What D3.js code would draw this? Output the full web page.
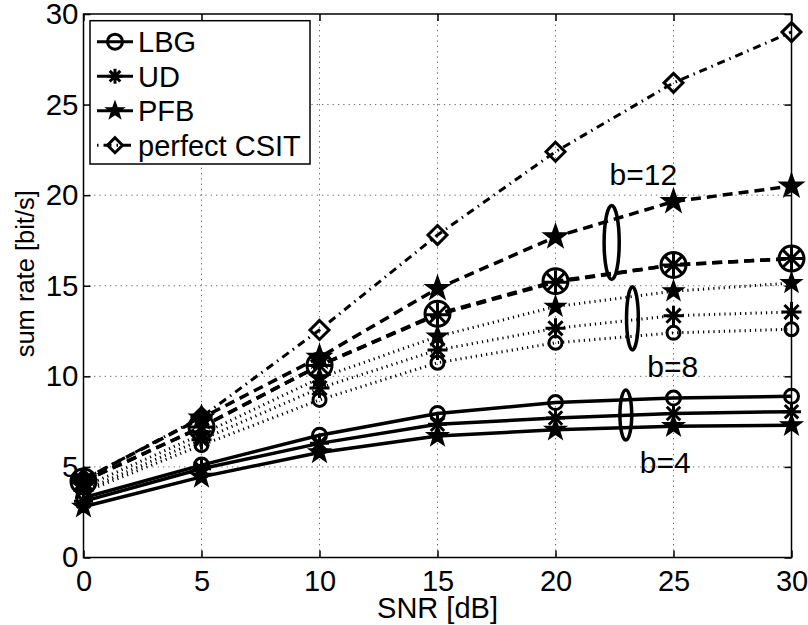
<!DOCTYPE html>
<html>
<head>
<meta charset="utf-8">
<script src="https://cdn.jsdelivr.net/npm/d3@7"></script>
<style>
  body { margin: 0; background: #fff; }
  svg { display: block; font-family: "Liberation Sans", Arial, Helvetica, sans-serif; }
</style>
</head>
<body>
<div id="chart-container"></div>
<script>
// data
const snr = [0, 5, 10, 15, 20, 25, 30];
const xTicks = [0, 5, 10, 15, 20, 25, 30];
const yTicks = [0, 5, 10, 15, 20, 25, 30];

const csit  = [4.3, 7.75, 12.56, 17.8, 22.4, 26.2, 29.0];
const pfb12 = [4.3, 7.7, 11.05, 14.85, 17.7, 19.65, 20.5];
const lbg12 = [4.2, 7.2, 10.6, 13.45, 15.25, 16.15, 16.5];
const ud12  = [4.2, 7.2, 10.6, 13.4, 15.2, 16.15, 16.5];
const pfb8  = [3.9, 6.8, 9.9, 12.2, 13.85, 14.7, 15.15];
const ud8   = [3.7, 6.5, 9.35, 11.45, 12.65, 13.35, 13.55];
const lbg8  = [3.6, 6.2, 8.7, 10.75, 11.85, 12.4, 12.6];
const lbg4  = [3.3, 5.1, 6.75, 7.95, 8.55, 8.8, 8.9];
const ud4   = [3.1, 4.9, 6.3, 7.35, 7.7, 7.95, 8.05];
const pfb4  = [2.8, 4.45, 5.8, 6.7, 7.05, 7.25, 7.3];

const legendNames = ["LBG", "UD", "PFB", "perfect CSIT"];
const legendMarkers = ["circle", "asterisk", "star", "diamond"];

// ellipses grouping the curves (data units) and their labels
const groupLabels = ["b=12", "b=8", "b=4"];
const groupEllipse = [
  {x: 22.38, y: 17.39, rx: 0.32, ry: 2.04},
  {x: 23.26, y: 13.2, rx: 0.25, ry: 1.74},
  {x: 22.98, y: 7.87, rx: 0.25, ry: 1.38}
];
const groupLabelPos = [[22.29, 20.56], [23.89, 9.98], [23.57, 4.68]];

// styles
const dashed = "10,6", dotted = "1.2,4", dashdot = "8,5,1.5,5";
const series = [
  {v: lbg4,  marker: "circle",   size: 7,    dash: null,    lw: 3.5},
  {v: ud4,   marker: "asterisk", size: 9.5,  dash: null,    lw: 3.5},
  {v: pfb4,  marker: "star",     size: 11,   dash: null,    lw: 3.5},
  {v: lbg8,  marker: "circle",   size: 6.5,  dash: dotted,  lw: 3},
  {v: ud8,   marker: "asterisk", size: 10,   dash: dotted,  lw: 3},
  {v: pfb8,  marker: "star",     size: 10.5, dash: dotted,  lw: 3},
  {v: lbg12, marker: "circle",   size: 12.5, dash: dashed,  lw: 3.5},
  {v: ud12,  marker: "asterisk", size: 12,   dash: dashed,  lw: 3.5},
  {v: pfb12, marker: "star",     size: 12.5, dash: dashed,  lw: 3.5},
  {v: csit,  marker: "diamond",  size: 9.5,  dash: dashdot, lw: 3}
];

const margin = {top: 14, right: 16.5, bottom: 67.5, left: 83.5};
const W = 808, H = 625;
const width = W - margin.left - margin.right;
const height = H - margin.top - margin.bottom;
const fs = 29;

const x = d3.scaleLinear().domain([0, 30]).range([0, width]);
const y = d3.scaleLinear().domain([0, 30]).range([height, 0]);

const svg = d3.select("#chart-container")
  .append("svg")
  .attr("width", W)
  .attr("height", H)
  .append("g")
  .attr("transform", `translate(${margin.left},${margin.top})`);

// grid
svg.selectAll(".xgrid")
  .data(xTicks.slice(1, -1))
  .join("line")
  .attr("x1", d => x(d)).attr("x2", d => x(d))
  .attr("y1", 0).attr("y2", height)
  .attr("stroke", "#666").attr("stroke-width", 1)
  .attr("stroke-dasharray", "1.3,4");
svg.selectAll(".ygrid")
  .data(yTicks.slice(1, -1))
  .join("line")
  .attr("x1", 0).attr("x2", width)
  .attr("y1", d => y(d)).attr("y2", d => y(d))
  .attr("stroke", "#666").attr("stroke-width", 1)
  .attr("stroke-dasharray", "1.3,4");

// marker shapes
function markerPath(type, r) {
  if (type === "circle") return d3.arc()({innerRadius: 0, outerRadius: r, startAngle: 0, endAngle: 2 * Math.PI});
  if (type === "diamond") return `M0,${-r}L${r},0L0,${r}L${-r},0Z`;
  if (type === "asterisk") {
    const d = r * Math.SQRT1_2;
    return `M0,${-r}V${r}M${-r},0H${r}M${-d},${-d}L${d},${d}M${-d},${d}L${d},${-d}`;
  }
  if (type === "star") {
    let p = "";
    for (let i = 0; i < 10; i++) {
      const rr = i % 2 === 0 ? r : r * 0.4;
      const a = -Math.PI / 2 + i * Math.PI / 5;
      p += (i === 0 ? "M" : "L") + (rr * Math.cos(a)).toFixed(2) + "," + (rr * Math.sin(a)).toFixed(2);
    }
    return p + "Z";
  }
}
function drawMarker(g, type, r) {
  g.append("path")
    .attr("d", markerPath(type, r))
    .attr("fill", type === "star" ? "#000" : "none")
    .attr("stroke", "#000")
    .attr("stroke-width", type === "star" ? 1.5 : 3)
    .attr("stroke-linejoin", "miter");
}

const line = d3.line()
  .x((d, i) => x(snr[i]))
  .y(d => y(d));

series.forEach(s => {
  svg.append("path")
    .datum(s.v)
    .attr("fill", "none")
    .attr("stroke", "#000")
    .attr("stroke-width", s.lw)
    .attr("stroke-dasharray", s.dash)
    .attr("d", line);
  s.v.forEach((d, i) => {
    const g = svg.append("g").attr("transform", `translate(${x(snr[i])},${y(d)})`);
    drawMarker(g, s.marker, s.size);
  });
});

// ellipses + labels
groupEllipse.forEach((e, i) => {
  svg.append("ellipse")
    .attr("cx", x(e.x)).attr("cy", y(e.y))
    .attr("rx", x(e.rx) - x(0)).attr("ry", y(0) - y(e.ry))
    .attr("fill", "none").attr("stroke", "#000").attr("stroke-width", 3.5);
  svg.append("text")
    .attr("x", x(groupLabelPos[i][0])).attr("y", y(groupLabelPos[i][1]))
    .style("font-size", "30px")
    .text(groupLabels[i]);
});

// axes (ticks inward, box)
svg.append("rect")
  .attr("width", width).attr("height", height)
  .attr("fill", "none").attr("stroke", "#000").attr("stroke-width", 1.5);

svg.append("g")
  .attr("transform", `translate(0,${height})`)
  .style("font-size", fs + "px")
  .call(d3.axisBottom(x).tickValues(xTicks).tickSizeInner(-7).tickSizeOuter(0).tickPadding(12.5))
  .call(g => g.select(".domain").remove())
  .call(g => g.selectAll("text").attr("fill", "#000").style("font-family", "inherit"));
svg.append("g")
  .call(d3.axisTop(x).tickValues(xTicks).tickSizeInner(-7).tickSizeOuter(0).tickFormat(""))
  .call(g => g.select(".domain").remove());
svg.append("g")
  .style("font-size", "29.5px")
  .call(d3.axisLeft(y).tickValues(yTicks).tickSizeInner(-7).tickSizeOuter(0).tickPadding(5))
  .call(g => g.select(".domain").remove())
  .call(g => g.selectAll("text").attr("fill", "#000").style("font-family", "inherit"));
svg.append("g")
  .attr("transform", `translate(${width},0)`)
  .call(d3.axisRight(y).tickValues(yTicks).tickSizeInner(-7).tickSizeOuter(0).tickFormat(""))
  .call(g => g.select(".domain").remove());
svg.selectAll(".tick line").attr("stroke", "#000").attr("stroke-width", 1.5);

// axis labels
svg.append("text")
  .attr("x", width / 2)
  .attr("y", height + 60)
  .style("text-anchor", "middle")
  .style("font-size", fs + "px")
  .text("SNR [dB]");
svg.append("text")
  .attr("transform", "rotate(-90)")
  .attr("x", -height / 2 + 12)
  .attr("y", -margin.left + 33.5)
  .style("text-anchor", "middle")
  .style("font-size", "25.5px")
  .text("sum rate [bit/s]");

// legend
const legend = svg.append("g").attr("transform", "translate(6.5,6.7)");
legend.append("rect")
  .attr("width", 220).attr("height", 143.3)
  .attr("fill", "#fff").attr("stroke", "#000").attr("stroke-width", 1.5);
legendNames.forEach((name, i) => {
  const row = legend.append("g").attr("transform", `translate(0,${21 + i * 34.5})`);
  row.append("line")
    .attr("x1", 7).attr("x2", 43)
    .attr("stroke", "#000")
    .attr("stroke-width", 3)
    .attr("stroke-dasharray", i === 3 ? "1.5,5,8,5" : null);
  const m = row.append("g").attr("transform", "translate(25,0)");
  drawMarker(m, legendMarkers[i], i === 2 ? 9 : 7.5);
  row.append("text")
    .attr("x", 48).attr("dy", "0.36em")
    .style("font-size", fs + "px")
    .text(name);
});
</script>
</body>
</html>
